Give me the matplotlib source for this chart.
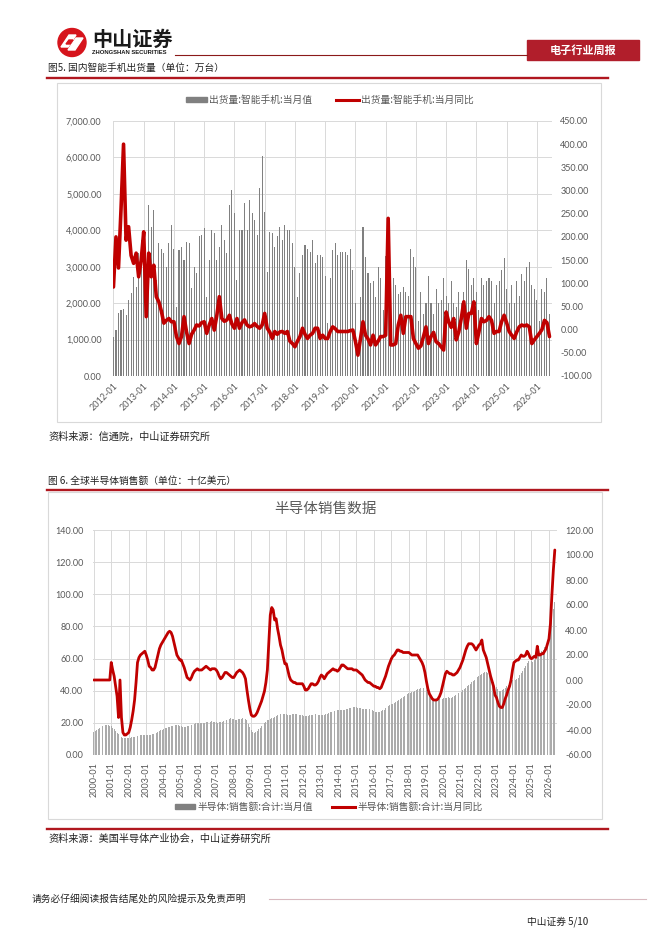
import matplotlib
matplotlib.use('Agg')
import matplotlib.pyplot as plt
from matplotlib.patches import Rectangle, Circle, Polygon
import numpy as np

W, H = 662, 936
CJK = ['Noto Sans CJK SC', 'DejaVu Sans']
NUM = ['Lato', 'DejaVu Sans']
RED = '#C00000'
GRID = '#D9D9D9'
TXT = '#595959'

# ---------------- data ----------------
phone_tick_labels = ['2012-01', '2013-01', '2014-01', '2015-01', '2016-01', '2017-01', '2018-01',
                     '2019-01', '2020-01', '2021-01', '2022-01', '2023-01', '2024-01', '2025-01', '2026-01']
# 智能手机月度出货量（万台），2012-01 ~ 2026-06
phone_units = [
    1080, 1260, 1720, 1810, 1830, 1680, 2090, 2270, 2730, 2450, 3370, 3730,
    3820, 2500, 4690, 4100, 4560, 2640, 3640, 3500, 3370, 3000, 3640, 4150,
    3500, 1900, 3460, 3550, 3190, 3690, 3640, 2410, 3000, 2820, 3830, 3870,
    4050, 2180, 3180, 4000, 3920, 3190, 3550, 4150, 3730, 3370, 4700, 5100,
    4470, 2640, 4000, 4000, 4750, 4000, 4830, 4470, 4280, 3870, 5150, 6040,
    4510, 2860, 3960, 3920, 3550, 3830, 4100, 3730, 4150, 4000, 4000, 3640,
    3000, 2180, 2820, 3320, 3600, 3500, 3410, 3730, 3100, 3320, 3320, 3280,
    2750, 1450, 2680, 3450, 3640, 3320, 3410, 3400, 3400, 3320, 3500, 2920,
    2000, 640, 2180, 4100, 3280, 2820, 2550, 2600, 2180, 3000, 2700, 1800,
    3300, 2180, 3000, 2700, 2500, 2250, 2300, 2450, 2300, 2200, 3500, 3270,
    3000, 1500, 2300, 1700, 2000, 2750, 2000, 1700, 2400, 2000, 2100, 2700,
    2200, 2000, 2600, 2000, 1900, 2300, 2000, 2300, 3190, 2950, 2500, 2700,
    2300, 1800, 2700, 2500, 2600, 2700, 2600, 2000, 2500, 2600, 2900, 3230,
    2400, 2000, 2500, 2000, 2600, 2200, 2800, 2600, 3000, 3140, 2500, 2400,
    2100, 1500, 2400, 2300, 2680, 1700,
]
# 当月同比（%）
phone_yoy = [
    92, 200, 133, 260, 400, 193, 222, 160, 143, 165, 114, 150,
    211, 28, 165, 114, 139, 71, 60, 40, 14, 20, 24, 17,
    17, -15, -30, -15, 28, -5, -30, -10, -1, 10, 8, 15,
    17, -8, 10, 24, -1, 30, 71, 24, 18, 21, 31, 12,
    3, 24, 3, 15, 21, 10, 6, 8, 13, 7, 3, 10,
    35, 3, -5, -19, -4, -10, -5, -4, -8, -4, -25, -30,
    -37, -25, -15, 3, -10, -19, -12, -8, 3, 3, -19, -12,
    -19, -19, -4, 6, 2, -4, -4, -4, -4, -4, -2, -1,
    -25, -55, -20, 17, -12, -20, -33, -12, -33, -25, -15, -15,
    -12, 240, -33, -33, -30, 10, 31, -8, 28, 28, 28, -19,
    -30, -40, -35, -15, 6, -30, -15, -6, -26, -30, -37, -44,
    38, 17, 5, 24, -22, -5, 24, 60, 3, 35, 35, 60,
    -30, -5, 24, 17, 20, 28, 20, -8, -4, -4, 17, 31,
    15, -4, -12, -19, -5, 6, 10, 8, 10, 6, -30, -22,
    -15, -8, 0, 20, 15, -15,
]

semi_tick_labels = ['2000-01', '2001-01', '2002-01', '2003-01', '2004-01', '2005-01', '2006-01',
                    '2007-01', '2008-01', '2009-01', '2010-01', '2011-01', '2012-01', '2013-01',
                    '2014-01', '2015-01', '2016-01', '2017-01', '2018-01', '2019-01', '2020-01',
                    '2021-01', '2022-01', '2023-01', '2024-01', '2025-01', '2026-01']
# 全球半导体月度销售额（十亿美元），2000-01 ~ 2026-05
semi_sales = [
    14.5, 15.0, 15.6, 16.2, 16.8, 17.3, 17.8, 18.2, 18.6, 18.7, 18.6, 18.3,
    17.8, 17.0, 16.0, 15.0, 14.0, 13.0, 12.0, 11.4, 10.8, 10.4, 10.4, 10.5,
    10.6, 10.8, 11.0, 11.2, 11.5, 11.8, 12.0, 12.1, 12.3, 12.4, 12.5, 12.4,
    12.3, 12.2, 12.3, 12.5, 12.9, 13.3, 13.7, 14.0, 14.5, 15.0, 15.4, 15.8,
    16.2, 16.6, 17.0, 17.4, 17.7, 18.0, 18.3, 18.6, 18.9, 18.8, 18.5, 18.2,
    17.8, 17.5, 17.4, 17.6, 17.8, 18.1, 18.5, 18.9, 19.3, 19.6, 19.8, 19.9,
    19.8, 19.7, 19.8, 20.0, 20.2, 20.5, 20.6, 20.7, 20.8, 20.9, 20.8, 20.6,
    20.4, 20.2, 20.3, 20.5, 20.8, 21.2, 21.6, 22.0, 22.4, 22.7, 22.8, 22.6,
    22.3, 22.0, 22.0, 22.2, 22.5, 22.7, 22.9, 22.8, 22.6, 21.5, 19.5, 17.5,
    15.5, 14.2, 13.8, 14.2, 15.0, 16.0, 17.0, 18.0, 19.0, 20.0, 20.8, 21.5,
    21.9, 22.3, 22.8, 23.3, 23.8, 24.3, 24.8, 25.3, 25.7, 25.9, 25.8, 25.6,
    25.3, 25.0, 25.0, 25.2, 25.4, 25.5, 25.4, 25.3, 25.2, 25.0, 24.8, 24.6,
    24.4, 24.2, 24.3, 24.5, 24.8, 25.0, 25.2, 25.3, 25.4, 25.3, 25.1, 25.0,
    24.9, 24.8, 25.0, 25.3, 25.7, 26.1, 26.5, 26.9, 27.2, 27.5, 27.7, 27.8,
    27.8, 27.7, 27.8, 28.0, 28.3, 28.6, 28.9, 29.2, 29.5, 29.8, 29.9, 29.9,
    29.7, 29.4, 29.2, 29.0, 28.9, 28.8, 28.7, 28.6, 28.6, 28.5, 28.3, 28.0,
    27.5, 26.8, 26.5, 26.6, 26.8, 27.2, 27.7, 28.3, 29.0, 29.8, 30.5, 31.0,
    31.5, 32.0, 32.5, 33.0, 33.6, 34.2, 34.9, 35.6, 36.3, 37.0, 37.7, 38.2,
    38.5, 38.7, 39.0, 39.4, 39.8, 40.3, 40.8, 41.3, 41.7, 42.0, 41.8, 41.3,
    40.5, 39.2, 37.9, 36.8, 35.8, 35.0, 34.5, 34.3, 34.4, 34.6, 34.8, 35.0,
    35.2, 35.3, 35.6, 35.9, 35.5, 35.3, 35.8, 36.5, 37.2, 38.0, 38.6, 39.0,
    39.5, 40.2, 41.0, 41.9, 42.8, 43.6, 44.4, 45.2, 46.0, 46.8, 47.6, 48.5,
    49.3, 50.0, 50.6, 51.3, 51.8, 51.7, 50.8, 49.5, 48.0, 46.6, 45.2, 44.0,
    42.5, 41.0, 39.8, 39.9, 40.4, 41.2, 42.0, 42.8, 43.6, 44.5, 45.5, 46.5,
    47.0, 46.5, 47.0, 48.0, 49.5, 51.0, 52.5, 54.0, 55.5, 57.0, 58.5, 59.0,
    58.5, 58.0, 59.0, 60.0, 61.5, 62.5, 63.5, 64.5, 65.5, 67.0, 69.0, 71.0,
    75.0, 80.0, 86.0, 91.0, 95.0,
]
# 当月同比（%）
semi_yoy = [
    0, 0, 0, 0, 0, 0, 0, 0, 0, 0, 0, 0,
    14, 8, 3, -5, -13, -30, 0, -30, -42, -44, -44, -43,
    -42, -38, -32, -25, -16, -2, 14, 18, 20, 21, 22, 23,
    20, 16, 11, 10, 8, 8, 10, 15, 20, 25, 28, 30,
    32, 34, 36, 38, 39, 38, 35, 30, 25, 20, 18, 16,
    16, 13, 10, 6, 2, 1, 0, 2, 5, 7, 8, 9,
    8, 8, 8, 9, 10, 11, 10, 9, 8, 9, 9, 9,
    8, 6, 3, 1, 2, 4, 6, 6, 5, 4, 3, 2,
    2, 4, 6, 7, 8, 7, 6, 4, 1, -8, -16, -23,
    -28, -29, -29, -28, -26, -23, -20, -17, -13, -9, -2, 8,
    30, 52, 58, 56, 48, 49, 41, 35, 28, 24, 18, 13,
    13, 8, 3, 0, -1, -2, -2, -3, -3, -3, -3, -3,
    -5, -8, -8, -7, -5, -3, -3, -4, -4, -3, -1, 2,
    4, 3, 1, 3, 5, 6, 7, 8, 9, 8, 8, 7,
    8, 10, 12, 12, 11, 10, 9, 9, 9, 9, 8, 8,
    8, 7, 6, 5, 4, 2, 0, -1, -2, -2, -3, -4,
    -5, -5, -6, -6, -7, -6, -3, 0, 3, 7, 11, 14,
    17, 19, 20, 22, 24, 24, 23, 23, 22, 22, 22, 22,
    22, 21, 20, 20, 20, 20, 20, 18, 16, 14, 11, 6,
    -1, -7, -11, -13, -15, -16, -16, -16, -15, -13, -10, -5,
    0, 5, 7, 6, 5, 5, 4, 4, 5, 6, 8, 10,
    13, 16, 20, 24, 27, 29, 29, 29, 28, 26, 24, 26,
    28, 29, 32, 24, 21, 18, 13, 8, 3, -1, -5, -12,
    -14, -18, -21, -22, -22, -19, -15, -12, -8, -5, 0, 8,
    14, 15, 16, 16, 18, 20, 19, 19, 20, 23, 21, 18,
    17, 18, 19, 18, 27, 20, 20, 21, 21, 23, 25, 29,
    33, 45, 68, 88, 104,
]

# ---------------- figure ----------------
fig = plt.figure(figsize=(W / 100, H / 100), dpi=100)
fig.patch.set_facecolor('white')
bg = fig.add_axes([0, 0, 1, 1], zorder=0)
bg.set_xlim(0, W)
bg.set_ylim(H, 0)
bg.axis('off')


def rect(x0, y0, x1, y1):
    return [x0 / W, 1 - y1 / H, (x1 - x0) / W, (y1 - y0) / H]


# header / logo
bg.add_patch(Circle((72, 42.5), 14, color='#D6141C', zorder=2))
bg.add_patch(Polygon([(61, 47), (69, 35), (76, 35), (68, 47)], closed=True, color='white', zorder=3))
bg.add_patch(Polygon([(68, 50), (76, 38), (83, 38), (75, 50)], closed=True, color='white', zorder=3))
bg.add_patch(Polygon([(66, 44), (69, 40), (73, 40), (70, 44)], closed=True, color='#D6141C', zorder=4))
bg.text(92, 39.5, '中山证券', fontsize=14.5, fontweight='bold', family=CJK, color='#1a1a1a',
        ha='left', va='center')
bg.text(92.5, 53, 'ZHONGSHAN SECURITIES', fontsize=4.2, fontweight='bold',
        family=['Liberation Sans', 'DejaVu Sans'], color='#1a1a1a', ha='left', va='center')
bg.plot([175, 527], [54.5, 54.5], color='#8B1A1A', lw=0.8)
bg.add_patch(Rectangle((527, 40), 112, 19.5, color='#B11E2B'))
bg.text(583, 50, '电子行业周报', fontsize=8, fontweight='bold', family=CJK, color='white',
        ha='center', va='center')

# ---------------- chart 1 ----------------
bg.text(48, 68, '图5. 国内智能手机出货量（单位：万台）', fontsize=7, family=CJK, color='#222222',
        ha='left', va='center')
bg.plot([47, 608], [78, 78], color='#B0171F', lw=1.7)
bg.add_patch(Rectangle((57, 83), 544, 339, fill=False, edgecolor=GRID, lw=0.8))

bg.add_patch(Rectangle((186, 97), 21, 5, color='#808080'))
bg.text(209, 99.5, '出货量:智能手机:当月值', fontsize=7, family=CJK, color=TXT, ha='left', va='center')
bg.plot([336, 359], [99.5, 99.5], color=RED, lw=2.2)
bg.text(361, 99.5, '出货量:智能手机:当月同比', fontsize=7, family=CJK, color=TXT, ha='left', va='center')

x1 = np.arange(len(phone_units))
ax1 = fig.add_axes(rect(112.7, 121, 552, 376), zorder=2)
ax1.set_facecolor('none')
ax1.bar(x1, phone_units, width=0.42, color='#808080', linewidth=0)
ax1.set_xlim(-0.3, len(phone_units))
ax1.set_ylim(0, 7000)
ax1.set_yticks(range(0, 7001, 1000))
ax1.set_yticklabels([f'{v:,.2f}' for v in range(0, 7001, 1000)], fontsize=6.5, color=TXT, family=NUM)
ax1.set_xticks(range(0, len(phone_units), 12))
ax1.set_xticklabels(phone_tick_labels, rotation=45, ha='right', va='top', rotation_mode='anchor',
                    fontsize=6.5, color=TXT, family=NUM)
ax1.tick_params(axis='y', length=0, pad=8)
ax1.tick_params(axis='x', length=0, pad=4)
ax1.grid(True, color=GRID, lw=0.7)
ax1.set_axisbelow(True)
for s in ax1.spines.values():
    s.set_visible(False)

ax1r = ax1.twinx()
ax1r.plot(x1, phone_yoy, color=RED, lw=2.6, solid_joinstyle='round', solid_capstyle='round')
ax1r.set_ylim(-100, 450)
ax1r.set_yticks(range(-100, 451, 50))
ax1r.set_yticklabels([f'{v:.2f}' for v in range(-100, 451, 50)], fontsize=6.5, color=TXT, family=NUM)
ax1r.tick_params(axis='y', length=0, pad=6)
for s in ax1r.spines.values():
    s.set_visible(False)

bg.text(48, 436.5, '资料来源：信通院，中山证券研究所', fontsize=7.3, family=CJK, color='#222222',
        ha='left', va='center')

# ---------------- chart 2 ----------------
bg.text(48, 481, '图 6. 全球半导体销售额（单位：十亿美元）', fontsize=7, family=CJK, color='#222222',
        ha='left', va='center')
bg.plot([47, 608], [490, 490], color='#B0171F', lw=1.7)
bg.add_patch(Rectangle((48, 492), 554, 327, fill=False, edgecolor=GRID, lw=0.8))
bg.text(325, 509, '半导体销售数据', fontsize=10.5, family=CJK, color=TXT, ha='center', va='center')

bg.add_patch(Rectangle((175, 804), 20, 5, color='#808080'))
bg.text(197, 806.5, '半导体:销售额:合计:当月值', fontsize=7, family=CJK, color=TXT, ha='left', va='center')
bg.plot([332, 355], [806.5, 806.5], color=RED, lw=2.2)
bg.text(357, 806.5, '半导体:销售额:合计:当月同比', fontsize=7, family=CJK, color=TXT, ha='left', va='center')

x2 = np.arange(len(semi_sales))
ax2 = fig.add_axes(rect(93, 530, 557, 755), zorder=2)
ax2.set_facecolor('none')
ax2.bar(x2, semi_sales, width=0.6, color='#ABABAB', linewidth=0)
ax2.set_xlim(-0.5, len(semi_sales) + 0.5)
ax2.set_ylim(0, 140)
ax2.set_yticks(range(0, 141, 20))
ax2.set_yticklabels([f'{v:.2f}' for v in range(0, 141, 20)], fontsize=6.5, color=TXT, family=NUM)
ax2.set_xticks(range(0, len(semi_sales), 12))
ax2.set_xticklabels(semi_tick_labels, rotation=90, ha='center', va='top', fontsize=6.5, color=TXT,
                    family=NUM)
ax2.tick_params(axis='y', length=0, pad=7)
ax2.tick_params(axis='x', length=0, pad=5)
ax2.grid(True, color=GRID, lw=0.7)
ax2.set_axisbelow(True)
for s in ax2.spines.values():
    s.set_visible(False)

ax2r = ax2.twinx()
ax2r.plot(x2, semi_yoy, color=RED, lw=2.0, solid_joinstyle='round', solid_capstyle='round')
ax2r.set_ylim(-60, 120)
ax2r.set_yticks(range(-60, 121, 20))
ax2r.set_yticklabels([f'{v:.2f}' for v in range(-60, 121, 20)], fontsize=6.5, color=TXT, family=NUM)
ax2r.tick_params(axis='y', length=0, pad=6)
for s in ax2r.spines.values():
    s.set_visible(False)

bg.plot([47, 608], [829, 829], color='#B0171F', lw=1.7)
bg.text(48, 838.5, '资料来源：美国半导体产业协会，中山证券研究所', fontsize=7.3, family=CJK, color='#222222',
        ha='left', va='center')

# ---------------- footer ----------------
bg.text(32, 899, '请务必仔细阅读报告结尾处的风险提示及免责声明', fontsize=7, family=CJK, color='#222222',
        ha='left', va='center')
bg.plot([269, 646], [899, 899], color='#D8B9BF', lw=0.8)
bg.text(527, 922, '中山证券 5/10', fontsize=7, family=CJK, color='#222222', ha='left', va='center')

fig.savefig('out.png', dpi=100, facecolor='white')
